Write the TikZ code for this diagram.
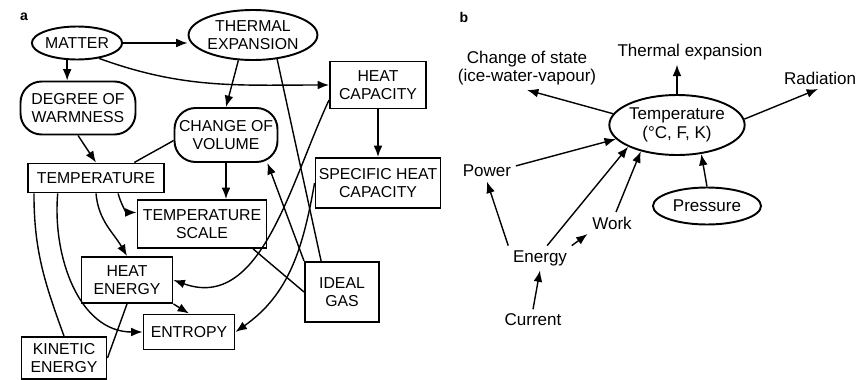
\documentclass[tikz,border=0pt]{standalone}
\usepackage{fontspec}
\setmainfont{Liberation Sans}
\usetikzlibrary{shapes.geometric, arrows.meta}

\begin{document}
\begin{tikzpicture}[x=0.02cm, y=-0.02cm,
  every node/.style={font=\fontsize{9}{10}\selectfont},
  box/.style={draw, line width=1.1pt, align=center, inner sep=1pt},
  oval/.style={draw, ellipse, line width=1.1pt, align=center, inner sep=0pt},
  soft/.style={draw, rounded corners=12pt, line width=1.1pt, align=center, inner sep=1pt},
  word/.style={align=center, inner sep=2.5pt, font=\fontsize{9.7}{10.6}\selectfont},
  tag/.style={font=\fontsize{8}{9}\bfseries},
  arr/.style={-{Latex[length=6.5pt,width=5pt]}, line width=0.8pt},
  con/.style={line width=0.8pt}]

\useasboundingbox (0,0) rectangle (859,379);

% Panel a
\node[tag] (pa) at (24,17) {a};

\node[oval, minimum width=1.6cm, minimum height=0.66cm] (matter) at (77,43) {MATTER};
\node[oval, minimum width=2.3cm, minimum height=1.0cm] (thermexp) at (253,35) {THERMAL\\EXPANSION};
\node[soft, minimum width=2.3cm, minimum height=1.06cm] (degree) at (78,108) {DEGREE OF\\WARMNESS};
\node[soft, minimum width=2.06cm, minimum height=1.08cm] (change) at (226,135) {CHANGE OF\\VOLUME};
\node[box, minimum width=2.72cm, minimum height=0.58cm] (temp) at (96,178) {TEMPERATURE};
\node[box, minimum width=1.92cm, minimum height=0.94cm] (heatcap) at (378,85) {HEAT\\CAPACITY};
\node[box, minimum width=2.5cm, minimum height=1.0cm] (specheat) at (378,183) {SPECIFIC HEAT\\CAPACITY};
\node[box, minimum width=2.58cm, minimum height=0.96cm] (tscale) at (202,224) {TEMPERATURE\\SCALE};
\node[box, minimum width=1.82cm, minimum height=0.92cm] (heaten) at (127,280) {HEAT\\ENERGY};
\node[box, minimum width=1.48cm, minimum height=1.2cm] (idealgas) at (342,292) {IDEAL\\GAS};
\node[box, minimum width=1.82cm, minimum height=0.7cm] (entropy) at (189,332) {ENTROPY};
\node[box, minimum width=1.7cm, minimum height=0.84cm] (kinetic) at (64,358) {KINETIC\\ENERGY};

% Links a
\draw[arr] (matter.east) -- (matter.east -| thermexp.west);
\draw[arr] (matter.-120) -- (matter.-120 |- degree.north);
\draw[arr] (matter.-35) to[out=-20, in=180] (heatcap.west);
\draw[arr] (degree.south) -- (temp.north);
\draw[arr] (thermexp.-120) -- (change.north);
\draw[con] (thermexp.-45) -- (idealgas.124);
\draw[con] (change.186) to[out=210, in=30] (temp.22);
\draw[arr] (change.south) -- (change.south |- tscale.north);
\draw[arr] (idealgas.north west) -- (change.-34);
\draw[con] (tscale.-26) -- (idealgas.west);
\draw[arr] (heatcap.south) -- (specheat.north);
\draw[arr] (heatcap.197) to[out=-115, in=-20] (heaten.east);
\draw[arr] (specheat.west) to[out=-100, in=35] (entropy.east);
\draw[arr] (temp.-35) to[out=-75, in=180] (tscale.170);
\draw[arr] (temp.-90) to[out=-85, in=120] (heaten.north);
\draw[arr] (temp.-158) to[out=-95, in=180] (entropy.west);
\draw[con] (temp.194) to[out=-90, in=110] (kinetic.north);
\draw[arr] (heaten.south east) -- (entropy.north);
\draw[con] (heaten.south) -- (kinetic.east);

% Panel b
\node[tag] (pb) at (464,17) {b};

\node[oval, minimum width=2.7cm, minimum height=1.2cm, font=\fontsize{9.7}{10.6}\selectfont] (tempb) at (677,125) {Temperature\\(°C, F, K)};
\node[word] (thexp) at (690,52) {Thermal expansion};
\node[word] (state) at (527,68) {Change of state\\(ice-water-vapour)};
\node[word] (radiation) at (820,78) {Radiation};
\node[word] (power) at (487,171) {Power};
\node[word] (energy) at (540,258) {Energy};
\node[word] (work) at (612,223) {Work};
\node[oval, minimum width=2.16cm, minimum height=0.74cm, font=\fontsize{9.7}{10.6}\selectfont] (pressure) at (707,206) {Pressure};
\node[word] (current) at (533,320) {Current};

% Links b
\draw[arr] (tempb.north) -- (tempb.north |- thexp.south);
\draw[arr] (tempb.170) -- (state.south);
\draw[arr] (tempb.5) -- (radiation.-100);
\draw[arr] (power.10) -- (tempb.-167);
\draw[arr] (energy.north west) -- (power.south);
\draw[arr] (energy.60) -- (tempb.-156);
\draw[arr] (energy.north east) -- (work.south west);
\draw[arr] (work.70) -- (tempb.-144);
\draw[arr] (pressure.north) -- (tempb.-50);
\draw[arr] (current.north) -- (energy.south);

\end{tikzpicture}
\end{document}
